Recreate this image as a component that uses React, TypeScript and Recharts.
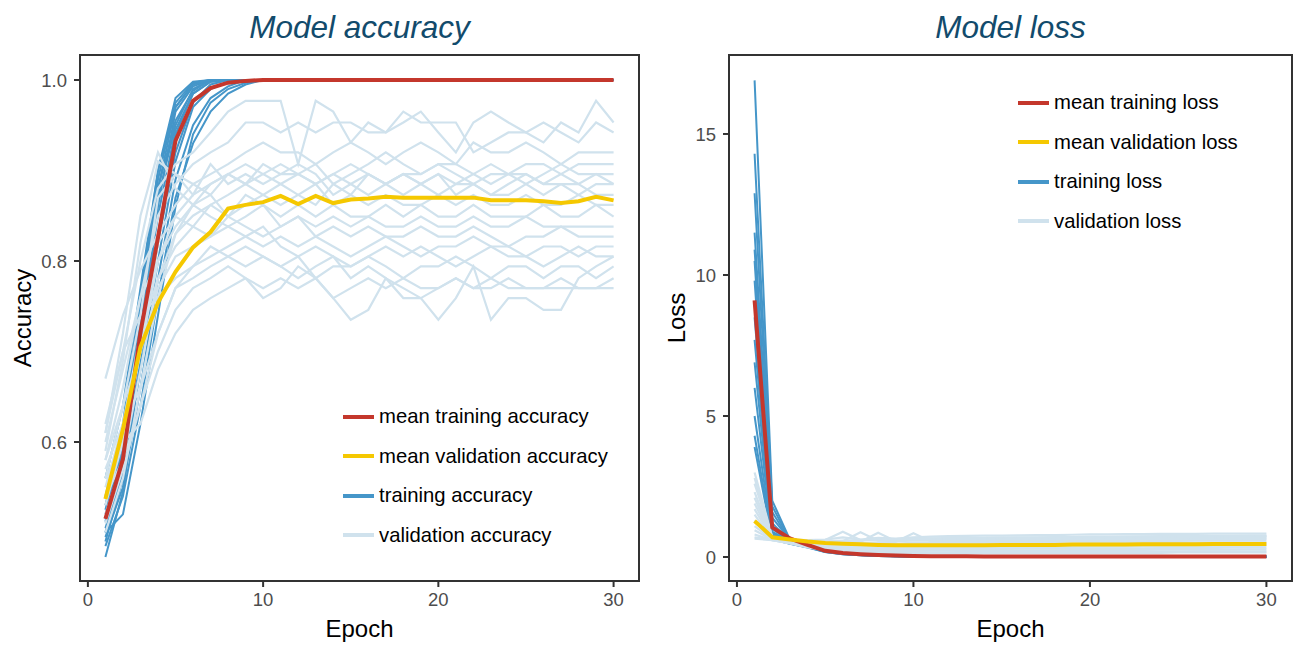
import { LineChart, Line, XAxis, YAxis, ReferenceArea } from 'recharts'

const EPOCHS = [
  1, 2, 3, 4, 5, 6, 7, 8, 9, 10, 11, 12, 13, 14, 15, 16, 17, 18, 19, 20, 21, 22, 23, 24, 25,
  26, 27, 28, 29, 30,
]

const ACC_TICKS = [0.6, 0.8, 1.0]
const LOSS_TICKS = [0, 5, 10, 15]
const EPOCH_TICKS = [0, 10, 20, 30]

// training accuracy, one array per run
const ACC_TRAIN_RUNS: number[][] = [
  [0.473, 0.545, 0.69, 0.86, 0.965, 0.993, 1, 1, 1, 1, 1, 1, 1, 1, 1, 1, 1, 1, 1, 1, 1, 1, 1, 1, 1, 1, 1, 1, 1, 1],
  [0.49, 0.56, 0.72, 0.88, 0.97, 0.995, 1, 1, 1, 1, 1, 1, 1, 1, 1, 1, 1, 1, 1, 1, 1, 1, 1, 1, 1, 1, 1, 1, 1, 1],
  [0.5, 0.58, 0.74, 0.89, 0.975, 0.997, 1, 1, 1, 1, 1, 1, 1, 1, 1, 1, 1, 1, 1, 1, 1, 1, 1, 1, 1, 1, 1, 1, 1, 1],
  [0.512, 0.6, 0.76, 0.9, 0.98, 0.998, 1, 1, 1, 1, 1, 1, 1, 1, 1, 1, 1, 1, 1, 1, 1, 1, 1, 1, 1, 1, 1, 1, 1, 1],
  [0.52, 0.59, 0.7, 0.83, 0.94, 0.985, 0.998, 1, 1, 1, 1, 1, 1, 1, 1, 1, 1, 1, 1, 1, 1, 1, 1, 1, 1, 1, 1, 1, 1, 1],
  [0.53, 0.61, 0.75, 0.87, 0.95, 0.99, 1, 1, 1, 1, 1, 1, 1, 1, 1, 1, 1, 1, 1, 1, 1, 1, 1, 1, 1, 1, 1, 1, 1, 1],
  [0.505, 0.565, 0.68, 0.8, 0.91, 0.97, 0.99, 0.998, 1, 1, 1, 1, 1, 1, 1, 1, 1, 1, 1, 1, 1, 1, 1, 1, 1, 1, 1, 1, 1, 1],
  [0.495, 0.55, 0.66, 0.78, 0.89, 0.95, 0.98, 0.993, 1, 1, 1, 1, 1, 1, 1, 1, 1, 1, 1, 1, 1, 1, 1, 1, 1, 1, 1, 1, 1, 1],
  [0.485, 0.54, 0.64, 0.76, 0.87, 0.93, 0.965, 0.985, 0.995, 1, 1, 1, 1, 1, 1, 1, 1, 1, 1, 1, 1, 1, 1, 1, 1, 1, 1, 1, 1, 1],
  [0.54, 0.62, 0.76, 0.88, 0.955, 0.988, 1, 1, 1, 1, 1, 1, 1, 1, 1, 1, 1, 1, 1, 1, 1, 1, 1, 1, 1, 1, 1, 1, 1, 1],
  [0.515, 0.575, 0.7, 0.82, 0.92, 0.975, 0.995, 1, 1, 1, 1, 1, 1, 1, 1, 1, 1, 1, 1, 1, 1, 1, 1, 1, 1, 1, 1, 1, 1, 1],
  [0.56, 0.64, 0.77, 0.9, 0.97, 0.996, 1, 1, 1, 1, 1, 1, 1, 1, 1, 1, 1, 1, 1, 1, 1, 1, 1, 1, 1, 1, 1, 1, 1, 1],
  [0.5, 0.52, 0.62, 0.74, 0.86, 0.94, 0.975, 0.99, 0.997, 1, 1, 1, 1, 1, 1, 1, 1, 1, 1, 1, 1, 1, 1, 1, 1, 1, 1, 1, 1, 1],
  [0.525, 0.6, 0.73, 0.85, 0.945, 0.985, 0.998, 1, 1, 1, 1, 1, 1, 1, 1, 1, 1, 1, 1, 1, 1, 1, 1, 1, 1, 1, 1, 1, 1, 1],
]

// validation accuracy, one array per run
const ACC_VAL_RUNS: number[][] = [
  [0.61, 0.7, 0.8, 0.88, 0.907, 0.92, 0.942, 0.965, 0.977, 0.977, 0.977, 0.907, 0.977, 0.965, 0.931, 0.953, 0.942, 0.953, 0.965, 0.942, 0.92, 0.953, 0.965, 0.953, 0.942, 0.931, 0.953, 0.942, 0.977, 0.953],
  [0.58, 0.66, 0.76, 0.85, 0.885, 0.907, 0.92, 0.931, 0.953, 0.953, 0.942, 0.953, 0.942, 0.953, 0.953, 0.942, 0.942, 0.965, 0.953, 0.953, 0.953, 0.92, 0.931, 0.942, 0.942, 0.953, 0.942, 0.931, 0.953, 0.942],
  [0.67, 0.74, 0.79, 0.83, 0.862, 0.885, 0.896, 0.907, 0.92, 0.931, 0.92, 0.92, 0.907, 0.92, 0.931, 0.92, 0.907, 0.92, 0.931, 0.92, 0.907, 0.931, 0.92, 0.92, 0.931, 0.92, 0.907, 0.92, 0.92, 0.92],
  [0.54, 0.6, 0.7, 0.8, 0.85, 0.873, 0.885, 0.896, 0.907, 0.896, 0.907, 0.896, 0.907, 0.885, 0.896, 0.907, 0.92, 0.907, 0.896, 0.907, 0.907, 0.896, 0.907, 0.896, 0.907, 0.907, 0.896, 0.907, 0.907, 0.907],
  [0.52, 0.58, 0.68, 0.78, 0.83, 0.862, 0.885, 0.896, 0.885, 0.907, 0.896, 0.896, 0.885, 0.896, 0.907, 0.896, 0.885, 0.896, 0.896, 0.907, 0.896, 0.885, 0.896, 0.896, 0.885, 0.896, 0.907, 0.896, 0.896, 0.896],
  [0.59, 0.69, 0.82, 0.91, 0.896, 0.873, 0.907, 0.885, 0.896, 0.885, 0.896, 0.907, 0.896, 0.873, 0.885, 0.896, 0.885, 0.896, 0.885, 0.896, 0.885, 0.896, 0.885, 0.896, 0.896, 0.885, 0.896, 0.885, 0.896, 0.885],
  [0.56, 0.64, 0.74, 0.87, 0.896, 0.885, 0.873, 0.896, 0.885, 0.873, 0.885, 0.896, 0.885, 0.896, 0.885, 0.873, 0.885, 0.896, 0.885, 0.873, 0.885, 0.885, 0.873, 0.885, 0.896, 0.885, 0.885, 0.873, 0.885, 0.885],
  [0.5, 0.56, 0.66, 0.76, 0.83, 0.85, 0.862, 0.873, 0.885, 0.896, 0.885, 0.873, 0.862, 0.885, 0.873, 0.896, 0.885, 0.873, 0.885, 0.896, 0.873, 0.885, 0.873, 0.873, 0.885, 0.873, 0.885, 0.885, 0.873, 0.873],
  [0.61, 0.72, 0.85, 0.92, 0.88, 0.862, 0.873, 0.849, 0.862, 0.873, 0.862, 0.873, 0.885, 0.862, 0.873, 0.862, 0.873, 0.862, 0.862, 0.873, 0.862, 0.873, 0.862, 0.862, 0.873, 0.862, 0.862, 0.873, 0.862, 0.862],
  [0.53, 0.6, 0.7, 0.82, 0.849, 0.838, 0.862, 0.849, 0.873, 0.862, 0.849, 0.862, 0.849, 0.862, 0.849, 0.849, 0.862, 0.849, 0.862, 0.849, 0.849, 0.862, 0.849, 0.849, 0.849, 0.862, 0.849, 0.849, 0.862, 0.849],
  [0.6, 0.68, 0.76, 0.8, 0.838, 0.862, 0.849, 0.838, 0.849, 0.862, 0.838, 0.849, 0.838, 0.849, 0.838, 0.849, 0.838, 0.838, 0.849, 0.838, 0.838, 0.849, 0.838, 0.838, 0.849, 0.838, 0.838, 0.838, 0.838, 0.838],
  [0.55, 0.62, 0.72, 0.78, 0.816, 0.838, 0.827, 0.849, 0.838, 0.827, 0.838, 0.849, 0.827, 0.838, 0.827, 0.838, 0.827, 0.827, 0.838, 0.827, 0.827, 0.838, 0.827, 0.816, 0.827, 0.827, 0.838, 0.827, 0.827, 0.827],
  [0.58, 0.64, 0.7, 0.77, 0.805, 0.816, 0.827, 0.838, 0.827, 0.816, 0.827, 0.816, 0.827, 0.816, 0.805, 0.816, 0.827, 0.816, 0.805, 0.816, 0.816, 0.827, 0.816, 0.816, 0.805, 0.816, 0.816, 0.805, 0.816, 0.816],
  [0.51, 0.57, 0.64, 0.72, 0.77, 0.794, 0.805, 0.816, 0.827, 0.838, 0.816, 0.805, 0.816, 0.805, 0.794, 0.805, 0.816, 0.805, 0.816, 0.805, 0.794, 0.805, 0.816, 0.805, 0.805, 0.794, 0.805, 0.816, 0.805, 0.805],
  [0.62, 0.7, 0.74, 0.76, 0.781, 0.794, 0.816, 0.805, 0.794, 0.805, 0.794, 0.805, 0.781, 0.794, 0.794, 0.805, 0.794, 0.781, 0.794, 0.794, 0.805, 0.794, 0.781, 0.794, 0.794, 0.781, 0.794, 0.794, 0.781, 0.794],
  [0.57, 0.62, 0.66, 0.72, 0.77, 0.781, 0.794, 0.805, 0.816, 0.805, 0.794, 0.781, 0.794, 0.805, 0.781, 0.794, 0.781, 0.759, 0.759, 0.735, 0.759, 0.794, 0.735, 0.759, 0.759, 0.746, 0.746, 0.781, 0.794, 0.805],
  [0.54, 0.58, 0.64, 0.7, 0.746, 0.77, 0.781, 0.794, 0.781, 0.77, 0.781, 0.77, 0.781, 0.759, 0.77, 0.781, 0.77, 0.781, 0.77, 0.77, 0.781, 0.77, 0.77, 0.781, 0.77, 0.77, 0.781, 0.77, 0.77, 0.781],
  [0.56, 0.6, 0.62, 0.68, 0.72, 0.746, 0.759, 0.77, 0.781, 0.759, 0.77, 0.794, 0.781, 0.759, 0.735, 0.746, 0.781, 0.77, 0.759, 0.77, 0.781, 0.77, 0.781, 0.77, 0.77, 0.77, 0.77, 0.77, 0.77, 0.77],
]

const ACC_TRAIN_MEAN = [
  0.515, 0.581, 0.721, 0.826, 0.933, 0.977, 0.991, 0.997, 0.999, 1, 1, 1, 1, 1, 1, 1, 1, 1, 1, 1,
  1, 1, 1, 1, 1, 1, 1, 1, 1, 1,
]
const ACC_VAL_MEAN = [
  0.537, 0.614, 0.705, 0.754, 0.788, 0.815, 0.832, 0.858, 0.862, 0.865, 0.872, 0.863, 0.872,
  0.864, 0.868, 0.869, 0.871, 0.87, 0.87, 0.87, 0.87, 0.87, 0.867, 0.867, 0.867, 0.866, 0.864,
  0.866, 0.871, 0.867,
]

// training loss, one array per run
const LOSS_TRAIN_RUNS: number[][] = [
  [16.9, 2.0, 0.62, 0.42, 0.24, 0.14, 0.09, 0.06, 0.04, 0.03, 0.03, 0.02, 0.02, 0.02, 0.02, 0.02, 0.01, 0.01, 0.01, 0.01, 0.01, 0.01, 0.01, 0.01, 0.01, 0.01, 0.01, 0.01, 0.01, 0.01],
  [14.3, 1.8, 0.6, 0.4, 0.22, 0.13, 0.08, 0.05, 0.04, 0.03, 0.03, 0.02, 0.02, 0.02, 0.02, 0.02, 0.02, 0.01, 0.01, 0.01, 0.01, 0.01, 0.01, 0.01, 0.01, 0.01, 0.01, 0.01, 0.01, 0.01],
  [12.9, 1.6, 0.58, 0.41, 0.23, 0.14, 0.09, 0.06, 0.05, 0.04, 0.03, 0.03, 0.02, 0.02, 0.02, 0.02, 0.02, 0.02, 0.02, 0.01, 0.01, 0.01, 0.01, 0.01, 0.01, 0.01, 0.01, 0.01, 0.01, 0.01],
  [11.5, 1.4, 0.6, 0.45, 0.25, 0.15, 0.1, 0.07, 0.05, 0.04, 0.03, 0.03, 0.03, 0.02, 0.02, 0.02, 0.02, 0.02, 0.02, 0.02, 0.01, 0.01, 0.01, 0.01, 0.01, 0.01, 0.01, 0.01, 0.01, 0.01],
  [10.9, 1.2, 0.57, 0.43, 0.24, 0.15, 0.1, 0.07, 0.05, 0.04, 0.03, 0.03, 0.02, 0.02, 0.02, 0.02, 0.02, 0.02, 0.01, 0.01, 0.01, 0.01, 0.01, 0.01, 0.01, 0.01, 0.01, 0.01, 0.01, 0.01],
  [10.5, 1.0, 0.55, 0.4, 0.21, 0.13, 0.08, 0.05, 0.04, 0.03, 0.02, 0.02, 0.02, 0.02, 0.01, 0.01, 0.01, 0.01, 0.01, 0.01, 0.01, 0.01, 0.01, 0.01, 0.01, 0.01, 0.01, 0.01, 0.01, 0.01],
  [9.8, 0.9, 0.54, 0.39, 0.2, 0.12, 0.08, 0.05, 0.04, 0.03, 0.02, 0.02, 0.02, 0.02, 0.02, 0.01, 0.01, 0.01, 0.01, 0.01, 0.01, 0.01, 0.01, 0.01, 0.01, 0.01, 0.01, 0.01, 0.01, 0.01],
  [8.5, 0.85, 0.56, 0.42, 0.23, 0.14, 0.09, 0.06, 0.04, 0.03, 0.03, 0.02, 0.02, 0.02, 0.02, 0.02, 0.02, 0.02, 0.02, 0.02, 0.01, 0.01, 0.01, 0.01, 0.01, 0.01, 0.01, 0.01, 0.01, 0.01],
  [7.7, 0.8, 0.55, 0.41, 0.22, 0.13, 0.08, 0.05, 0.04, 0.03, 0.02, 0.02, 0.02, 0.02, 0.02, 0.02, 0.01, 0.01, 0.01, 0.01, 0.01, 0.01, 0.01, 0.01, 0.01, 0.01, 0.01, 0.01, 0.01, 0.01],
  [6.9, 0.75, 0.52, 0.38, 0.2, 0.12, 0.07, 0.05, 0.03, 0.03, 0.02, 0.02, 0.02, 0.02, 0.01, 0.01, 0.01, 0.01, 0.01, 0.01, 0.01, 0.01, 0.01, 0.01, 0.01, 0.01, 0.01, 0.01, 0.01, 0.01],
  [6.0, 0.7, 0.5, 0.36, 0.19, 0.11, 0.07, 0.04, 0.03, 0.02, 0.02, 0.02, 0.02, 0.01, 0.01, 0.01, 0.01, 0.01, 0.01, 0.01, 0.01, 0.01, 0.01, 0.01, 0.01, 0.01, 0.01, 0.01, 0.01, 0.01],
  [5.0, 0.68, 0.5, 0.37, 0.2, 0.12, 0.07, 0.05, 0.03, 0.03, 0.02, 0.02, 0.02, 0.02, 0.02, 0.01, 0.01, 0.01, 0.01, 0.01, 0.01, 0.01, 0.01, 0.01, 0.01, 0.01, 0.01, 0.01, 0.01, 0.01],
  [4.3, 0.65, 0.48, 0.35, 0.18, 0.1, 0.06, 0.04, 0.03, 0.02, 0.02, 0.02, 0.01, 0.01, 0.01, 0.01, 0.01, 0.01, 0.01, 0.01, 0.01, 0.01, 0.01, 0.01, 0.01, 0.01, 0.01, 0.01, 0.01, 0.01],
  [3.9, 0.62, 0.47, 0.34, 0.18, 0.1, 0.06, 0.04, 0.03, 0.02, 0.02, 0.01, 0.01, 0.01, 0.01, 0.01, 0.01, 0.01, 0.01, 0.01, 0.01, 0.01, 0.01, 0.01, 0.01, 0.01, 0.01, 0.01, 0.01, 0.01],
]

// validation loss, one array per run
const LOSS_VAL_RUNS: number[][] = [
  [3.0, 0.7, 0.62, 0.6, 0.62, 0.7, 0.62, 0.68, 0.65, 0.7, 0.72, 0.74, 0.75, 0.76, 0.76, 0.77, 0.78, 0.78, 0.79, 0.8, 0.8, 0.81, 0.81, 0.82, 0.82, 0.82, 0.83, 0.83, 0.83, 0.83],
  [2.8, 0.69, 0.61, 0.58, 0.56, 0.58, 0.6, 0.62, 0.64, 0.64, 0.65, 0.66, 0.66, 0.67, 0.68, 0.68, 0.69, 0.69, 0.7, 0.7, 0.71, 0.71, 0.72, 0.72, 0.72, 0.73, 0.73, 0.74, 0.74, 0.74],
  [2.6, 0.68, 0.6, 0.56, 0.6, 0.9, 0.6, 0.62, 0.64, 0.65, 0.66, 0.67, 0.68, 0.68, 0.69, 0.7, 0.7, 0.71, 0.71, 0.72, 0.72, 0.73, 0.73, 0.74, 0.74, 0.74, 0.75, 0.75, 0.76, 0.76],
  [2.3, 0.66, 0.58, 0.55, 0.54, 0.56, 0.88, 0.58, 0.6, 0.62, 0.62, 0.63, 0.64, 0.64, 0.65, 0.66, 0.66, 0.66, 0.67, 0.67, 0.68, 0.68, 0.69, 0.69, 0.7, 0.7, 0.7, 0.71, 0.71, 0.72],
  [2.1, 0.65, 0.56, 0.52, 0.5, 0.52, 0.54, 0.86, 0.56, 0.58, 0.58, 0.59, 0.6, 0.6, 0.61, 0.62, 0.62, 0.63, 0.63, 0.64, 0.64, 0.64, 0.65, 0.65, 0.66, 0.66, 0.66, 0.67, 0.67, 0.68],
  [1.9, 0.64, 0.55, 0.5, 0.48, 0.48, 0.5, 0.52, 0.54, 0.84, 0.55, 0.56, 0.56, 0.57, 0.58, 0.58, 0.59, 0.59, 0.6, 0.6, 0.61, 0.61, 0.62, 0.62, 0.62, 0.63, 0.63, 0.64, 0.64, 0.64],
  [1.7, 0.64, 0.54, 0.48, 0.45, 0.44, 0.45, 0.46, 0.48, 0.5, 0.5, 0.51, 0.52, 0.52, 0.53, 0.53, 0.54, 0.54, 0.55, 0.55, 0.56, 0.56, 0.56, 0.57, 0.57, 0.58, 0.58, 0.58, 0.59, 0.59],
  [1.5, 0.63, 0.53, 0.46, 0.42, 0.4, 0.4, 0.41, 0.42, 0.43, 0.44, 0.45, 0.45, 0.46, 0.46, 0.47, 0.47, 0.48, 0.48, 0.49, 0.49, 0.5, 0.5, 0.5, 0.51, 0.51, 0.51, 0.52, 0.52, 0.52],
  [1.3, 0.62, 0.52, 0.44, 0.38, 0.36, 0.36, 0.37, 0.38, 0.38, 0.39, 0.4, 0.4, 0.41, 0.41, 0.41, 0.42, 0.42, 0.43, 0.43, 0.43, 0.44, 0.44, 0.44, 0.45, 0.45, 0.45, 0.46, 0.46, 0.46],
  [1.1, 0.62, 0.51, 0.42, 0.35, 0.32, 0.31, 0.32, 0.32, 0.33, 0.33, 0.34, 0.34, 0.35, 0.35, 0.35, 0.36, 0.36, 0.36, 0.37, 0.37, 0.37, 0.38, 0.38, 0.38, 0.38, 0.39, 0.39, 0.39, 0.4],
  [0.95, 0.61, 0.5, 0.4, 0.32, 0.28, 0.27, 0.27, 0.27, 0.28, 0.28, 0.28, 0.29, 0.29, 0.29, 0.3, 0.3, 0.3, 0.3, 0.31, 0.31, 0.31, 0.31, 0.32, 0.32, 0.32, 0.32, 0.33, 0.33, 0.33],
  [0.8, 0.6, 0.5, 0.38, 0.3, 0.25, 0.23, 0.22, 0.22, 0.22, 0.23, 0.23, 0.23, 0.23, 0.24, 0.24, 0.24, 0.24, 0.25, 0.25, 0.25, 0.25, 0.25, 0.26, 0.26, 0.26, 0.26, 0.26, 0.27, 0.27],
  [0.7, 0.6, 0.49, 0.36, 0.27, 0.21, 0.19, 0.18, 0.17, 0.17, 0.17, 0.17, 0.18, 0.18, 0.18, 0.18, 0.18, 0.18, 0.19, 0.19, 0.19, 0.19, 0.19, 0.19, 0.19, 0.2, 0.2, 0.2, 0.2, 0.2],
  [0.65, 0.6, 0.48, 0.34, 0.25, 0.19, 0.16, 0.15, 0.14, 0.14, 0.14, 0.14, 0.14, 0.14, 0.14, 0.15, 0.15, 0.15, 0.15, 0.15, 0.15, 0.15, 0.15, 0.15, 0.16, 0.16, 0.16, 0.16, 0.16, 0.16],
]

const LOSS_TRAIN_MEAN = [
  9.1, 1.05, 0.66, 0.43, 0.22, 0.14, 0.1, 0.07, 0.05, 0.04, 0.03, 0.03, 0.03, 0.02, 0.02, 0.02,
  0.02, 0.02, 0.02, 0.02, 0.02, 0.02, 0.02, 0.02, 0.02, 0.02, 0.02, 0.02, 0.02, 0.02,
]
const LOSS_VAL_MEAN = [
  1.28, 0.7, 0.62, 0.55, 0.5, 0.47, 0.45, 0.43, 0.42, 0.42, 0.42, 0.42, 0.42, 0.42, 0.43, 0.43,
  0.43, 0.43, 0.44, 0.44, 0.44, 0.44, 0.45, 0.45, 0.45, 0.45, 0.46, 0.46, 0.46, 0.46,
]

const RED = '#c4372c'
const YELLOW = '#f5c800'
const BLUE = '#4596c9'
const LIGHT = '#d0e2ed'
const FRAME = '#333333'
const FONT = '"Liberation Sans", Arial, Helvetica, sans-serif'

type Row = Record<string, number>

function buildRows(train: number[][], val: number[][], meanTrain: number[], meanVal: number[]) {
  return EPOCHS.map((epoch, i) => {
    const row: Row = { epoch }
    train.forEach((run, k) => {
      row[`t${k}`] = run[i]
    })
    val.forEach((run, k) => {
      row[`v${k}`] = run[i]
    })
    row.meanTrain = meanTrain[i]
    row.meanVal = meanVal[i]
    return row
  })
}

type LegendItem = { label: string; color: string }

function LegendBox({ items, left, top }: { items: LegendItem[]; left: number; top: number }) {
  return (
    <div style={{ position: 'absolute', left, top }}>
      {items.map((item) => (
        <div key={item.label} style={{ display: 'flex', alignItems: 'center', height: 39.5 }}>
          <span
            style={{ width: 31, height: 4, background: item.color, marginRight: 5, display: 'block' }}
          />
          <span style={{ fontSize: 20.3, color: '#000', whiteSpace: 'nowrap' }}>{item.label}</span>
        </div>
      ))}
    </div>
  )
}

type PanelProps = {
  left: number
  width: number
  axisWidth: number
  title: string
  yLabel: string
  yLabelOffset: number
  yDomain: [number, number]
  yTicks: number[]
  yFormat: (v: number) => string
  rows: Row[]
  trainCount: number
  valCount: number
}

function Panel({
  left,
  width,
  axisWidth,
  title,
  yLabel,
  yLabelOffset,
  yDomain,
  yTicks,
  yFormat,
  rows,
  trainCount,
  valCount,
}: PanelProps) {
  const rightMargin = 2
  const plotLeft = left + axisWidth
  const plotWidth = width - axisWidth - rightMargin
  const tickStyle = { fill: '#4d4d4d', fontSize: 18.5 }

  return (
    <>
      <div
        style={{
          position: 'absolute',
          left: plotLeft,
          width: plotWidth,
          top: 8,
          textAlign: 'center',
          fontStyle: 'italic',
          fontSize: 31.5,
          color: '#124b6c',
          lineHeight: '38px',
        }}
      >
        {title}
      </div>
      <div style={{ position: 'absolute', left, top: 0 }}>
        <LineChart
          width={width}
          height={645}
          data={rows}
          margin={{ top: 55, right: rightMargin, bottom: 0, left: 0 }}
        >
          <XAxis
            dataKey="epoch"
            type="number"
            domain={[-0.45, 31.45]}
            ticks={EPOCH_TICKS}
            allowDataOverflow
            height={64}
            tickSize={6}
            tickMargin={6}
            tick={tickStyle}
            axisLine={{ stroke: FRAME, strokeWidth: 2 }}
            tickLine={{ stroke: FRAME, strokeWidth: 2 }}
            label={{ value: 'Epoch', position: 'insideBottom', offset: 8, fill: '#000', fontSize: 24 }}
          />
          <YAxis
            type="number"
            domain={yDomain}
            ticks={yTicks}
            allowDataOverflow
            width={axisWidth}
            tickSize={6}
            tickMargin={7}
            tick={tickStyle}
            tickFormatter={yFormat}
            axisLine={{ stroke: FRAME, strokeWidth: 2 }}
            tickLine={{ stroke: FRAME, strokeWidth: 2 }}
            label={{
              value: yLabel,
              angle: -90,
              position: 'insideLeft',
              offset: yLabelOffset,
              fill: '#000',
              fontSize: 24,
              style: { textAnchor: 'middle' },
            }}
          />
          <ReferenceArea
            x1={-0.45}
            x2={31.45}
            y1={yDomain[0]}
            y2={yDomain[1]}
            fill="none"
            stroke={FRAME}
            strokeWidth={2}
            ifOverflow="visible"
          />
          {Array.from({ length: trainCount }, (_, k) => (
            <Line
              key={`t${k}`}
              dataKey={`t${k}`}
              type="linear"
              stroke={BLUE}
              strokeWidth={2}
              dot={false}
              activeDot={false}
              isAnimationActive={false}
            />
          ))}
          {Array.from({ length: valCount }, (_, k) => (
            <Line
              key={`v${k}`}
              dataKey={`v${k}`}
              type="linear"
              stroke={LIGHT}
              strokeWidth={2.2}
              dot={false}
              activeDot={false}
              isAnimationActive={false}
            />
          ))}
          <Line
            dataKey="meanTrain"
            type="linear"
            stroke={RED}
            strokeWidth={4}
            dot={false}
            activeDot={false}
            isAnimationActive={false}
          />
          <Line
            dataKey="meanVal"
            type="linear"
            stroke={YELLOW}
            strokeWidth={4}
            dot={false}
            activeDot={false}
            isAnimationActive={false}
          />
        </LineChart>
      </div>
    </>
  )
}

export default function App() {
  const accRows = buildRows(ACC_TRAIN_RUNS, ACC_VAL_RUNS, ACC_TRAIN_MEAN, ACC_VAL_MEAN)
  const lossRows = buildRows(LOSS_TRAIN_RUNS, LOSS_VAL_RUNS, LOSS_TRAIN_MEAN, LOSS_VAL_MEAN)

  return (
    <div
      style={{
        position: 'absolute',
        left: 0,
        top: 0,
        width: 1294,
        height: 645,
        background: '#fff',
        fontFamily: FONT,
        overflow: 'hidden',
      }}
    >
      <Panel
        left={0}
        width={641}
        axisWidth={80}
        title="Model accuracy"
        yLabel="Accuracy"
        yLabelOffset={22}
        yDomain={[0.4464, 1.0276]}
        yTicks={ACC_TICKS}
        yFormat={(v) => v.toFixed(1)}
        rows={accRows}
        trainCount={ACC_TRAIN_RUNS.length}
        valCount={ACC_VAL_RUNS.length}
      />
      <Panel
        left={660}
        width={634}
        axisWidth={69}
        title="Model loss"
        yLabel="Loss"
        yLabelOffset={16}
        yDomain={[-0.85, 17.8]}
        yTicks={LOSS_TICKS}
        yFormat={(v) => String(v)}
        rows={lossRows}
        trainCount={LOSS_TRAIN_RUNS.length}
        valCount={LOSS_VAL_RUNS.length}
      />
      <LegendBox
        left={343}
        top={397}
        items={[
          { label: 'mean training accuracy', color: RED },
          { label: 'mean validation accuracy', color: YELLOW },
          { label: 'training accuracy', color: BLUE },
          { label: 'validation accuracy', color: LIGHT },
        ]}
      />
      <LegendBox
        left={1018}
        top={83}
        items={[
          { label: 'mean training loss', color: RED },
          { label: 'mean validation loss', color: YELLOW },
          { label: 'training loss', color: BLUE },
          { label: 'validation loss', color: LIGHT },
        ]}
      />
    </div>
  )
}
